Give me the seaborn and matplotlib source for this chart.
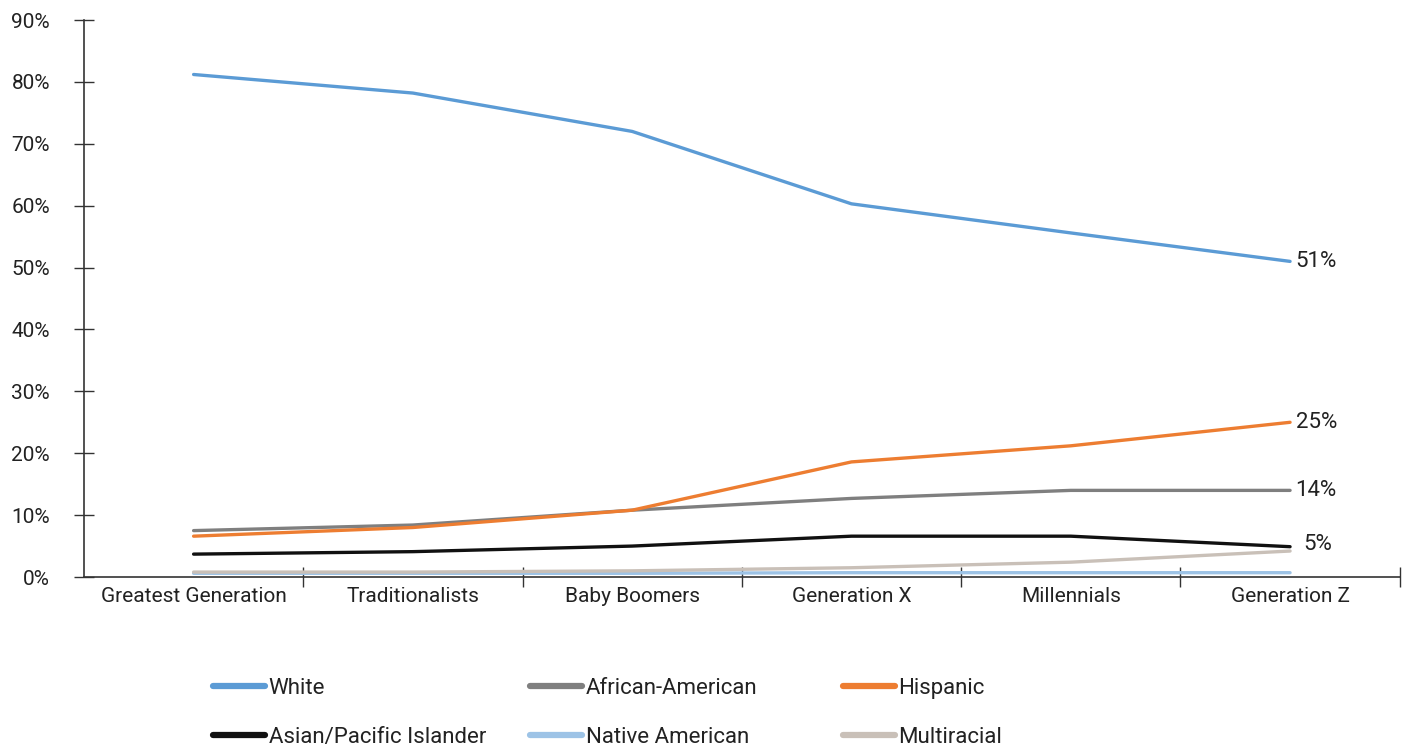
import numpy as np
import pandas as pd
import seaborn as sns
import matplotlib.pyplot as plt
from matplotlib.lines import Line2D
from matplotlib.ticker import FixedLocator, PercentFormatter

generations = ['Greatest Generation', 'Traditionalists', 'Baby Boomers',
               'Generation X', 'Millennials', 'Generation Z']
white = [81.2, 78.2, 72.0, 60.3, 55.6, 51.0]
african_american = [7.5, 8.4, 10.8, 12.7, 14.0, 14.0]
hispanic = [6.6, 8.0, 10.8, 18.6, 21.2, 25.0]
asian = [3.7, 4.1, 5.0, 6.6, 6.6, 4.9]
native = [0.6, 0.6, 0.6, 0.7, 0.7, 0.7]
multiracial = [0.8, 0.8, 1.0, 1.5, 2.4, 4.2]
end_labels = {'White': '51%', 'Hispanic': '25%', 'African-American': '14%',
              'Asian/Pacific Islander': '5%'}

series = {
    'White': white,
    'African-American': african_american,
    'Hispanic': hispanic,
    'Asian/Pacific Islander': asian,
    'Native American': native,
    'Multiracial': multiracial,
}
colors = {
    'White': '#5B9BD5',
    'African-American': '#7F7F7F',
    'Hispanic': '#ED7D31',
    'Asian/Pacific Islander': '#111111',
    'Native American': '#9DC3E6',
    'Multiracial': '#C9C0B8',
}

rows = []
for name, vals in series.items():
    for g, v in zip(generations, vals):
        rows.append({'generation': g, 'share': v, 'group': name})
df = pd.DataFrame(rows)

sns.set_style('white')
plt.rcParams['font.family'] = ['Roboto', 'DejaVu Sans']
plt.rcParams['text.color'] = '#222222'

fig = plt.figure(figsize=(14.11, 7.53), dpi=100)
ax = fig.add_axes([0.0595, 0.2337, 0.9325, 0.7397])

# draw Native first so it sits under the others
order = ['Native American', 'Multiracial', 'Asian/Pacific Islander',
         'African-American', 'Hispanic', 'White']
sns.lineplot(data=df, x='generation', y='share', hue='group', hue_order=order,
             palette=colors, linewidth=2.4, legend=False, ax=ax, sort=False)

ax.set_xlim(-0.5, 5.5)
ax.set_ylim(0, 90)
ax.set_xlabel('')
ax.set_ylabel('')
ax.yaxis.set_major_locator(FixedLocator(np.arange(0, 91, 10)))
ax.yaxis.set_major_formatter(PercentFormatter(decimals=0))
ax.set_xticks(range(len(generations)))
ax.set_xticklabels(generations)
ax.xaxis.set_minor_locator(FixedLocator(np.arange(0.5, 6, 1)))
ax.tick_params(axis='x', which='major', length=0, pad=7, labelsize=15, labelcolor='#222222')
ax.tick_params(axis='x', which='minor', direction='inout', length=14, width=1, color='#333333', bottom=True)
ax.tick_params(axis='y', which='major', direction='inout', length=15, width=1, color='#333333',
               left=True, labelsize=15, labelcolor='#222222', pad=17)
for s in ['top', 'right']:
    ax.spines[s].set_visible(False)
for s in ['left', 'bottom']:
    ax.spines[s].set_color('#333333')
    ax.spines[s].set_linewidth(1.2)

last = len(generations) - 1
for name, lab in end_labels.items():
    is_asian = name == 'Asian/Pacific Islander'
    ax.text(last + (0.06 if is_asian else 0.025), series[name][-1] + (0.3 if is_asian else 0), lab,
            va='center', ha='left', fontsize=16, color='#222222')

# legend: three columns placed individually, rows read left to right
columns = [['White', 'Asian/Pacific Islander'],
           ['African-American', 'Native American'],
           ['Hispanic', 'Multiracial']]
col_x = [213 / 1411, 530 / 1411, 843 / 1411]
for names, x in zip(columns, col_x):
    handles = [Line2D([], [], color=colors[n], linewidth=4.5, solid_capstyle='round') for n in names]
    fig.legend(handles, names, loc='center left', bbox_to_anchor=(x, 1 - 713 / 753),
               frameon=False, fontsize=16, handlelength=2.35, handletextpad=0.15,
               labelspacing=1.25, borderpad=0, borderaxespad=0)

fig.savefig('out.png', dpi=100)
